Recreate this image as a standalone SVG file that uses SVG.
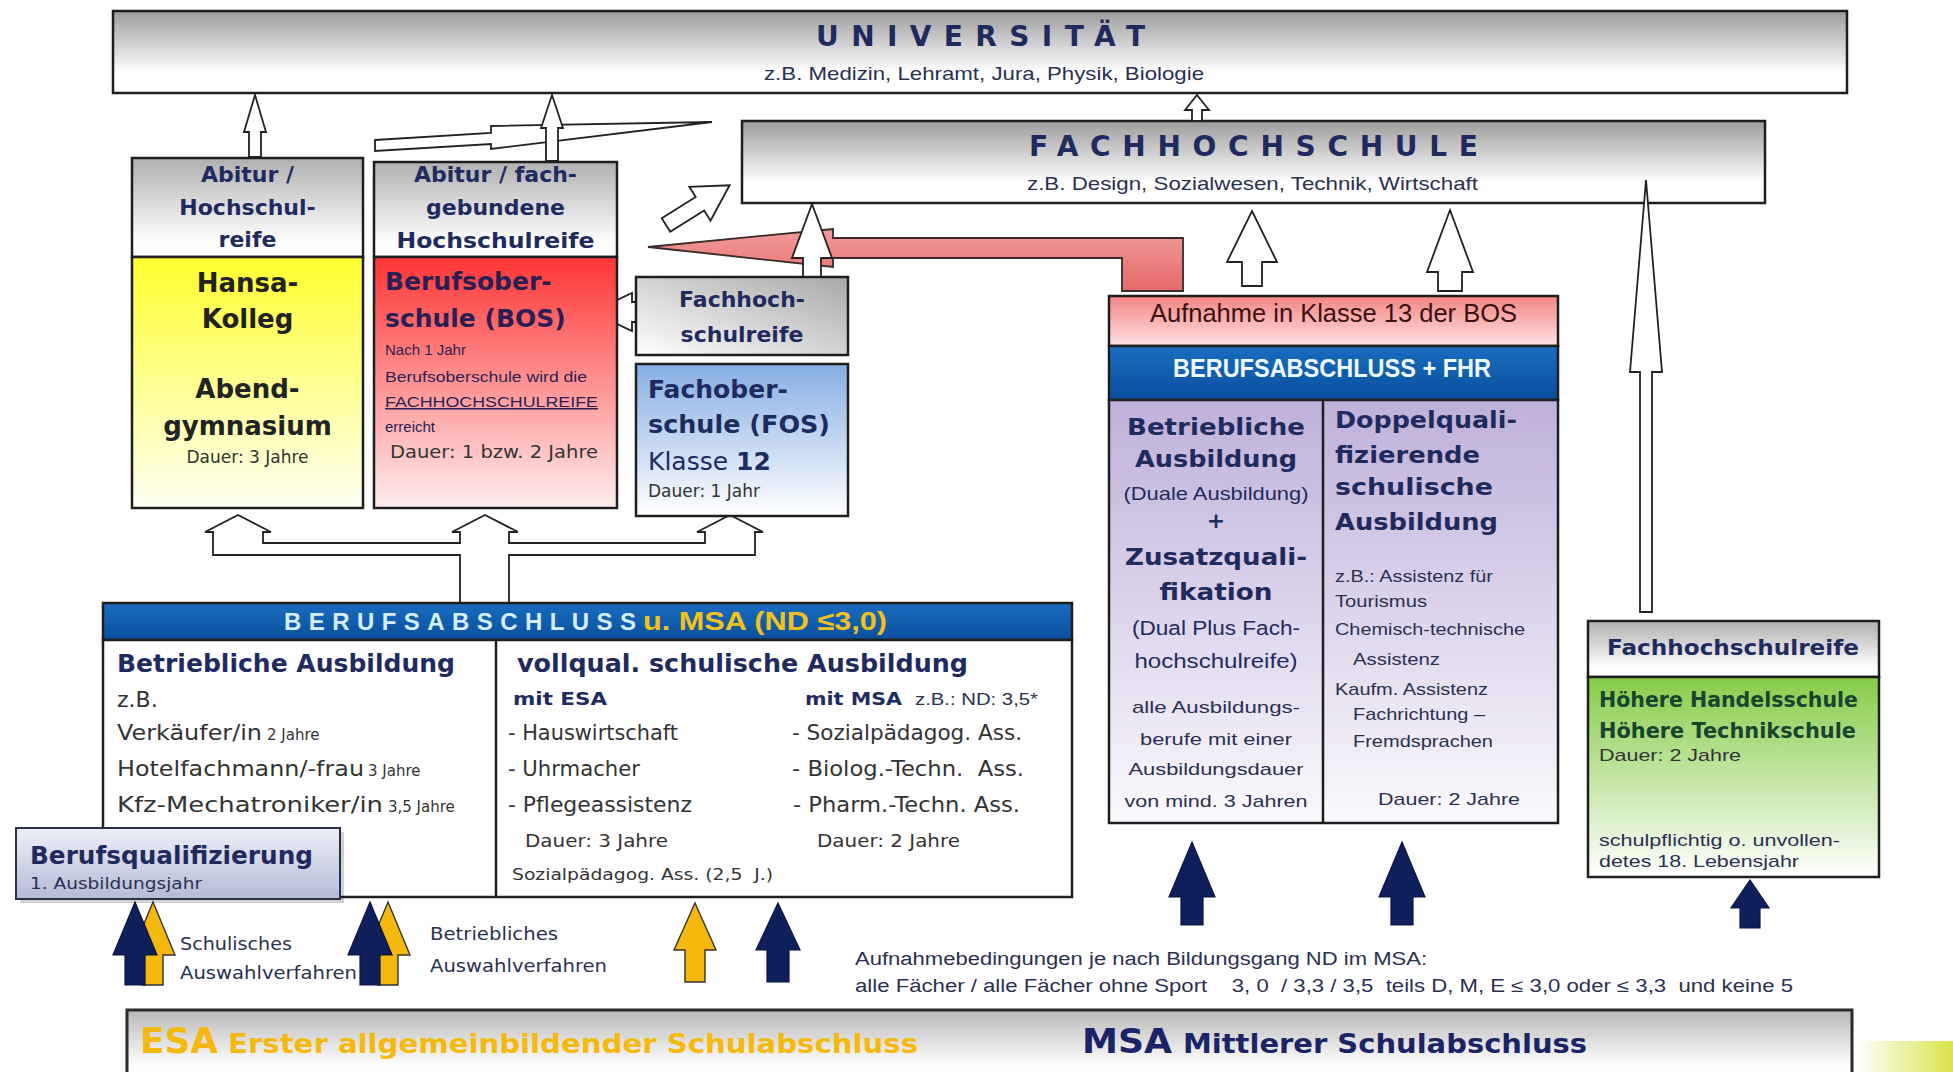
<svg xmlns="http://www.w3.org/2000/svg" width="1953" height="1072" viewBox="0 0 1953 1072">
<defs>
<linearGradient id="gGray" x1="0" y1="0" x2="0" y2="1"><stop offset="0" stop-color="#9c9c9c"/><stop offset="0.75" stop-color="#ffffff"/></linearGradient>
<linearGradient id="gHead" x1="0" y1="0" x2="0" y2="1"><stop offset="0" stop-color="#b0b0b0"/><stop offset="0.85" stop-color="#ffffff"/></linearGradient>
<linearGradient id="gYellow" x1="0" y1="0" x2="0" y2="1"><stop offset="0" stop-color="#ffff2e"/><stop offset="1" stop-color="#fffff4"/></linearGradient>
<linearGradient id="gRed" x1="0" y1="0" x2="0" y2="1"><stop offset="0" stop-color="#ff3535"/><stop offset="1" stop-color="#ffeeee"/></linearGradient>
<linearGradient id="gFos" x1="0" y1="0" x2="0" y2="1"><stop offset="0" stop-color="#86aee3"/><stop offset="1" stop-color="#ffffff"/></linearGradient>
<linearGradient id="gFhrS" x1="0" y1="1" x2="1" y2="0"><stop offset="0" stop-color="#ffffff"/><stop offset="1" stop-color="#a8a8a8"/></linearGradient>
<linearGradient id="gPink" x1="0" y1="0" x2="0" y2="1"><stop offset="0" stop-color="#f48484"/><stop offset="1" stop-color="#fde2e2"/></linearGradient>
<linearGradient id="gBand" x1="0" y1="0" x2="0" y2="1"><stop offset="0" stop-color="#1a6cc0"/><stop offset="1" stop-color="#0b4f9c"/></linearGradient>
<linearGradient id="gLav" x1="0" y1="0" x2="0" y2="1"><stop offset="0" stop-color="#bfb0da"/><stop offset="1" stop-color="#fbf9fd"/></linearGradient>
<linearGradient id="gGreen" x1="0" y1="0" x2="0" y2="1"><stop offset="0" stop-color="#86cc48"/><stop offset="1" stop-color="#ffffff"/></linearGradient>
<linearGradient id="gBq" x1="0" y1="0" x2="0" y2="1"><stop offset="0" stop-color="#eef0f8"/><stop offset="1" stop-color="#b3bbd6"/></linearGradient>
<linearGradient id="gBottom" x1="0" y1="0" x2="0" y2="1"><stop offset="0" stop-color="#b8b8b8"/><stop offset="0.8" stop-color="#ffffff"/></linearGradient>
<linearGradient id="gPinkArrow" x1="0" y1="0" x2="0" y2="1"><stop offset="0" stop-color="#f29a9a"/><stop offset="1" stop-color="#e56a6a"/></linearGradient>
<linearGradient id="gLime" x1="0" y1="0" x2="1" y2="0"><stop offset="0" stop-color="#ffffff"/><stop offset="1" stop-color="#d9e34a"/></linearGradient>
<style>
.box{stroke:#1e1e1e;stroke-width:2.5}
.t{font-family:"DejaVu Sans",Verdana,sans-serif}
.n{font-family:"Liberation Sans",Arial,sans-serif}
.b{font-weight:bold}
.nv{fill:#1f2b5e}
.dk{fill:#2a3050}
.g3{fill:#333}
.mid{text-anchor:middle}
.pre{white-space:pre}
.ol{fill:#fff;stroke:#222;stroke-width:1.8;stroke-linejoin:miter}
.na{fill:#0f1f5c;stroke:#0a1440;stroke-width:1.2}
.ya{fill:#f5b80c;stroke:#333;stroke-width:1.4}
</style>
</defs>

<rect x="0" y="0" width="1953" height="1072" fill="#ffffff"/>
<rect x="1856" y="1041" width="97" height="31" fill="url(#gLime)"/>

<g id="universitaet">
<rect class="box" x="113" y="11" width="1734" height="82" fill="url(#gGray)"/>
<text class="t b nv" x="816" y="46" font-size="28" textLength="329" lengthAdjust="spacing">UNIVERSITÄT</text>
<text class="n dk" x="764" y="80" font-size="19" textLength="440" lengthAdjust="spacingAndGlyphs">z.B. Medizin, Lehramt, Jura, Physik, Biologie</text>
</g>

<g id="fachhochschule">
<rect class="box" x="742" y="121" width="1023" height="82" fill="url(#gGray)"/>
<text class="t b nv" x="1029" y="156" font-size="28" textLength="449" lengthAdjust="spacing">FACHHOCHSCHULE</text>
<text class="n dk" x="1027" y="190" font-size="19" textLength="451" lengthAdjust="spacingAndGlyphs">z.B. Design, Sozialwesen, Technik, Wirtschaft</text>
</g>

<g id="connectors">
<path class="ol" d="M255,95 L266,132 L261,132 L261,157 L249,157 L249,132 L244,132 Z"/>
<path class="ol" d="M375,140 L491,133 L491,126 L712,122 L491,149 L491,144 L375,151 Z"/>
<path class="ol" d="M552,95 L563,128 L558,128 L558,161 L546,161 L546,128 L541,128 Z"/>
<path class="ol" d="M1197,95 L1209,110 L1202,110 L1202,121 L1192,121 L1192,110 L1185,110 Z"/>
<path class="ol" transform="translate(666,225) rotate(-32)" d="M0,-8 L40,-8 L40,-20 L75,0 L40,20 L40,8 L0,8 Z"/>
<path d="M648,247 L833,229 L833,238 L1183,238 L1183,291 L1122,291 L1122,258 L833,258 L833,267 Z" fill="url(#gPinkArrow)" stroke="#3a2a2a" stroke-width="1.8"/>
<path class="ol" d="M812,204 L832,258 L821,258 L821,278 L803,278 L803,258 L792,258 Z"/>
<path class="ol" d="M592,312 L632,293 L632,302 L655,302 L655,322 L632,322 L632,331 Z"/>
<path class="ol" d="M1252,211 L1277,262 L1262,262 L1262,286 L1242,286 L1242,262 L1227,262 Z"/>
<path class="ol" d="M1450,210 L1473,272 L1462,272 L1462,291 L1438,291 L1438,272 L1427,272 Z"/>
<path class="ol" d="M1646,180 L1662,372 L1652,372 L1652,612 L1640,612 L1640,372 L1630,372 Z"/>
<path class="ol" d="M213,555 L213,532 L205,532 L238,515 L271,532 L263,532 L263,543 L460,543 L460,532 L452,532 L485,515 L518,532 L509,532 L509,543 L705,543 L705,532 L697,532 L730,515 L763,532 L755,532 L755,555 L509,555 L509,603 L460,603 L460,555 Z"/>
<path class="ya" d="M153,902 L175,955 L163,955 L163,985 L143,985 L143,955 L131,955 Z"/>
<path class="na" d="M135,902 L157,955 L145,955 L145,985 L125,985 L125,955 L113,955 Z"/>
<path class="ya" d="M388,902 L410,955 L398,955 L398,985 L378,985 L378,955 L366,955 Z"/>
<path class="na" d="M370,902 L392,955 L380,955 L380,985 L360,985 L360,955 L348,955 Z"/>
<path class="ya" d="M695,903 L716,950 L705,950 L705,982 L685,982 L685,950 L674,950 Z"/>
<path class="na" d="M778,903 L800,950 L789,950 L789,982 L767,982 L767,950 L756,950 Z"/>
<path class="na" d="M1192,842 L1215,897 L1203,897 L1203,925 L1181,925 L1181,897 L1169,897 Z"/>
<path class="na" d="M1402,842 L1425,897 L1413,897 L1413,925 L1391,925 L1391,897 L1379,897 Z"/>
<path class="na" d="M1750,880 L1769,908 L1760,908 L1760,928 L1740,928 L1740,908 L1731,908 Z"/>
</g>

<g id="abitur-hansa">
<rect class="box" x="132" y="158" width="231" height="99" fill="url(#gHead)"/>
<rect class="box" x="132" y="257" width="231" height="251" fill="url(#gYellow)"/>
<text class="t b nv mid" x="247.5" y="182" font-size="22">Abitur /</text>
<text class="t b nv mid" x="247.5" y="215" font-size="22">Hochschul-</text>
<text class="t b nv mid" x="247.5" y="247" font-size="22">reife</text>
<text class="t b mid" x="247.5" y="292" font-size="26" fill="#222">Hansa-</text>
<text class="t b mid" x="247.5" y="328" font-size="26" fill="#222">Kolleg</text>
<text class="t b mid" x="247.5" y="398" font-size="26" fill="#222">Abend-</text>
<text class="t b mid" x="247.5" y="435" font-size="26" fill="#222">gymnasium</text>
<text class="t g3 mid" x="247.5" y="463" font-size="17">Dauer: 3 Jahre</text>
</g>

<g id="bos">
<rect class="box" x="374" y="162" width="243" height="95" fill="url(#gHead)"/>
<rect class="box" x="374" y="257" width="243" height="251" fill="url(#gRed)"/>
<text class="t b nv mid" x="495.5" y="182" font-size="22">Abitur / fach-</text>
<text class="t b nv mid" x="495.5" y="215" font-size="22">gebundene</text>
<text class="t b nv mid" x="495.5" y="248" font-size="22" textLength="198" lengthAdjust="spacingAndGlyphs">Hochschulreife</text>
<text class="t b" x="385" y="290" font-size="25" fill="#2a1f55">Berufsober-</text>
<text class="t b" x="385" y="327" font-size="25" fill="#2a1f55">schule (BOS)</text>
<text class="n" x="385" y="355" font-size="15" fill="#2a1f55">Nach 1 Jahr</text>
<text class="n" x="385" y="382" font-size="15" fill="#2a1f55" textLength="202" lengthAdjust="spacingAndGlyphs">Berufsoberschule wird die</text>
<text class="n" x="385" y="407" font-size="15" fill="#2a1f55" text-decoration="underline" textLength="213" lengthAdjust="spacingAndGlyphs">FACHHOCHSCHULREIFE</text>
<text class="n" x="385" y="432" font-size="15" fill="#2a1f55">erreicht</text>
<text class="t g3" x="390" y="458" font-size="18" textLength="208" lengthAdjust="spacingAndGlyphs">Dauer: 1 bzw. 2 Jahre</text>
</g>

<g id="fachhochschulreife-links">
<rect class="box" x="636" y="277" width="212" height="78" fill="url(#gFhrS)"/>
<text class="t b nv mid" x="742" y="307" font-size="22">Fachhoch-</text>
<text class="t b nv mid" x="742" y="342" font-size="22">schulreife</text>
</g>

<g id="fos">
<rect class="box" x="636" y="364" width="212" height="152" fill="url(#gFos)"/>
<text class="t b nv" x="648" y="398" font-size="25">Fachober-</text>
<text class="t b nv" x="648" y="433" font-size="25" textLength="182" lengthAdjust="spacingAndGlyphs">schule (FOS)</text>
<text class="t nv" x="648" y="470" font-size="25">Klasse <tspan font-weight="bold">12</tspan></text>
<text class="t g3" x="648" y="497" font-size="17">Dauer: 1 Jahr</text>
</g>

<g id="bos-klasse13">
<rect class="box" x="1109" y="296" width="449" height="50" fill="url(#gPink)"/>
<rect class="box" x="1109" y="346" width="449" height="54" fill="url(#gBand)"/>
<rect class="box" x="1109" y="400" width="449" height="423" fill="url(#gLav)"/>
<line class="box" x1="1323" y1="400" x2="1323" y2="823"/>
<text class="n" x="1150" y="322" font-size="26" fill="#3a1010" textLength="367" lengthAdjust="spacingAndGlyphs">Aufnahme in Klasse 13 der BOS</text>
<text class="n b" x="1173" y="377" font-size="26" fill="#eef8ff" textLength="318" lengthAdjust="spacingAndGlyphs">BERUFSABSCHLUSS + FHR</text>
<text class="t b nv mid" x="1216" y="435" font-size="23" textLength="178" lengthAdjust="spacingAndGlyphs">Betriebliche</text>
<text class="t b nv mid" x="1216" y="467" font-size="23" textLength="162" lengthAdjust="spacingAndGlyphs">Ausbildung</text>
<text class="n nv mid" x="1216" y="500" font-size="19" textLength="185" lengthAdjust="spacingAndGlyphs">(Duale Ausbildung)</text>
<text class="t b nv mid" x="1216" y="528" font-size="22">+</text>
<text class="t b nv mid" x="1216" y="565" font-size="23" textLength="182" lengthAdjust="spacingAndGlyphs">Zusatzquali-</text>
<text class="t b nv mid" x="1216" y="600" font-size="23" textLength="113" lengthAdjust="spacingAndGlyphs">fikation</text>
<text class="n nv mid" x="1216" y="635" font-size="20" textLength="168" lengthAdjust="spacingAndGlyphs">(Dual Plus Fach-</text>
<text class="n nv mid" x="1216" y="668" font-size="20" textLength="163" lengthAdjust="spacingAndGlyphs">hochschulreife)</text>
<text class="n dk mid" x="1216" y="713" font-size="17" textLength="168" lengthAdjust="spacingAndGlyphs">alle Ausbildungs-</text>
<text class="n dk mid" x="1216" y="745" font-size="17" textLength="152" lengthAdjust="spacingAndGlyphs">berufe mit einer</text>
<text class="n dk mid" x="1216" y="775" font-size="17" textLength="175" lengthAdjust="spacingAndGlyphs">Ausbildungsdauer</text>
<text class="n dk mid" x="1216" y="807" font-size="17" textLength="183" lengthAdjust="spacingAndGlyphs">von mind. 3 Jahren</text>
<text class="t b nv" x="1335" y="428" font-size="23" textLength="182" lengthAdjust="spacingAndGlyphs">Doppelquali-</text>
<text class="t b nv" x="1335" y="463" font-size="23" textLength="145" lengthAdjust="spacingAndGlyphs">fizierende</text>
<text class="t b nv" x="1335" y="495" font-size="23" textLength="158" lengthAdjust="spacingAndGlyphs">schulische</text>
<text class="t b nv" x="1335" y="530" font-size="23" textLength="163" lengthAdjust="spacingAndGlyphs">Ausbildung</text>
<text class="n dk" x="1335" y="582" font-size="17" textLength="158" lengthAdjust="spacingAndGlyphs">z.B.: Assistenz für</text>
<text class="n dk" x="1335" y="607" font-size="17" textLength="92" lengthAdjust="spacingAndGlyphs">Tourismus</text>
<text class="n dk" x="1335" y="635" font-size="17" textLength="190" lengthAdjust="spacingAndGlyphs">Chemisch-technische</text>
<text class="n dk" x="1353" y="665" font-size="17" textLength="87" lengthAdjust="spacingAndGlyphs">Assistenz</text>
<text class="n dk" x="1335" y="695" font-size="17" textLength="153" lengthAdjust="spacingAndGlyphs">Kaufm. Assistenz</text>
<text class="n dk" x="1353" y="720" font-size="17" textLength="132" lengthAdjust="spacingAndGlyphs">Fachrichtung –</text>
<text class="n dk" x="1353" y="747" font-size="17" textLength="140" lengthAdjust="spacingAndGlyphs">Fremdsprachen</text>
<text class="n dk" x="1378" y="805" font-size="17" textLength="142" lengthAdjust="spacingAndGlyphs">Dauer: 2 Jahre</text>
</g>

<g id="fachhochschulreife-rechts">
<rect class="box" x="1588" y="621" width="291" height="56" fill="url(#gHead)"/>
<rect class="box" x="1588" y="677" width="291" height="200" fill="url(#gGreen)"/>
<text class="t b nv mid" x="1733" y="655" font-size="22" textLength="252" lengthAdjust="spacingAndGlyphs">Fachhochschulreife</text>
<text class="t b" x="1599" y="707" font-size="21" fill="#17452e" textLength="259" lengthAdjust="spacingAndGlyphs">Höhere Handelsschule</text>
<text class="t b" x="1599" y="738" font-size="21" fill="#17452e" textLength="257" lengthAdjust="spacingAndGlyphs">Höhere Technikschule</text>
<text class="n g3" x="1599" y="761" font-size="17" textLength="142" lengthAdjust="spacingAndGlyphs">Dauer: 2 Jahre</text>
<text class="n dk" x="1599" y="846" font-size="17" textLength="241" lengthAdjust="spacingAndGlyphs">schulpflichtig o. unvollen-</text>
<text class="n dk" x="1599" y="867" font-size="17" textLength="200" lengthAdjust="spacingAndGlyphs">detes 18. Lebensjahr</text>
</g>

<g id="berufsabschluss">
<rect class="box" x="103" y="603" width="969" height="37" fill="url(#gBand)"/>
<rect class="box" x="103" y="640" width="969" height="257" fill="#ffffff"/>
<line class="box" x1="496" y1="640" x2="496" y2="897"/>
<text class="n b" x="284" y="630" font-size="24" fill="#d6efff" textLength="352" lengthAdjust="spacing">BERUFSABSCHLUSS</text>
<text class="n b" x="643" y="630" font-size="26" fill="#f2c21b" textLength="244" lengthAdjust="spacingAndGlyphs">u. MSA (ND ≤3,0)</text>
<text class="t b nv" x="117" y="672" font-size="25" textLength="338" lengthAdjust="spacingAndGlyphs">Betriebliche Ausbildung</text>
<text class="t g3" x="117" y="707" font-size="22">z.B.</text>
<text class="t g3" x="117" y="740" font-size="22" textLength="145" lengthAdjust="spacingAndGlyphs">Verkäufer/in</text>
<text class="t g3" x="267" y="740" font-size="15">2 Jahre</text>
<text class="t g3" x="117" y="776" font-size="22" textLength="247" lengthAdjust="spacingAndGlyphs">Hotelfachmann/-frau</text>
<text class="t g3" x="368" y="776" font-size="15">3 Jahre</text>
<text class="t g3" x="117" y="812" font-size="22" textLength="266" lengthAdjust="spacingAndGlyphs">Kfz-Mechatroniker/in</text>
<text class="t g3" x="388" y="812" font-size="15">3,5 Jahre</text>
<text class="t b nv" x="517" y="672" font-size="25" textLength="451" lengthAdjust="spacingAndGlyphs">vollqual. schulische Ausbildung</text>
<text class="t b nv" x="513" y="705" font-size="17" textLength="94" lengthAdjust="spacingAndGlyphs">mit ESA</text>
<text class="t g3" x="508" y="740" font-size="21" textLength="170" lengthAdjust="spacingAndGlyphs">- Hauswirtschaft</text>
<text class="t g3" x="508" y="776" font-size="21" textLength="132" lengthAdjust="spacingAndGlyphs">- Uhrmacher</text>
<text class="t g3" x="508" y="812" font-size="21" textLength="184" lengthAdjust="spacingAndGlyphs">- Pflegeassistenz</text>
<text class="t g3" x="525" y="847" font-size="17" textLength="143" lengthAdjust="spacingAndGlyphs">Dauer: 3 Jahre</text>
<text class="t g3 pre" x="512" y="880" font-size="16" textLength="261" lengthAdjust="spacingAndGlyphs">Sozialpädagog. Ass. (2,5  J.)</text>
<text class="t b nv" x="805" y="705" font-size="17" textLength="97" lengthAdjust="spacingAndGlyphs">mit MSA</text>
<text class="n dk" x="915" y="705" font-size="16" textLength="123" lengthAdjust="spacingAndGlyphs">z.B.: ND: 3,5*</text>
<text class="t g3" x="792" y="740" font-size="21" textLength="230" lengthAdjust="spacingAndGlyphs">- Sozialpädagog. Ass.</text>
<text class="t g3 pre" x="792" y="776" font-size="21" textLength="232" lengthAdjust="spacingAndGlyphs">- Biolog.-Techn.  Ass.</text>
<text class="t g3" x="793" y="812" font-size="21" textLength="227" lengthAdjust="spacingAndGlyphs">- Pharm.-Techn. Ass.</text>
<text class="t g3" x="817" y="847" font-size="17" textLength="143" lengthAdjust="spacingAndGlyphs">Dauer: 2 Jahre</text>
</g>

<g id="berufsqualifizierung">
<rect x="20" y="832" width="324" height="71" fill="#000" opacity="0.18"/>
<rect x="16" y="828" width="324" height="71" fill="url(#gBq)" stroke="#2a2f4a" stroke-width="2"/>
<text class="t b nv" x="30" y="864" font-size="25" textLength="283" lengthAdjust="spacingAndGlyphs">Berufsqualifizierung</text>
<text class="t dk" x="30" y="889" font-size="15" textLength="172" lengthAdjust="spacingAndGlyphs">1. Ausbildungsjahr</text>
</g>

<g id="auswahl-labels">
<text class="t dk" x="180" y="950" font-size="17" textLength="112" lengthAdjust="spacingAndGlyphs">Schulisches</text>
<text class="t dk" x="180" y="979" font-size="17" textLength="177" lengthAdjust="spacingAndGlyphs">Auswahlverfahren</text>
<text class="t dk" x="430" y="940" font-size="17" textLength="128" lengthAdjust="spacingAndGlyphs">Betriebliches</text>
<text class="t dk" x="430" y="972" font-size="17" textLength="177" lengthAdjust="spacingAndGlyphs">Auswahlverfahren</text>
</g>

<g id="aufnahmebedingungen">
<text class="n dk" x="855" y="965" font-size="18" textLength="572" lengthAdjust="spacingAndGlyphs">Aufnahmebedingungen je nach Bildungsgang ND im MSA:</text>
<text class="n dk pre" x="855" y="992" font-size="18" textLength="938" lengthAdjust="spacingAndGlyphs">alle Fächer / alle Fächer ohne Sport    3, 0  / 3,3 / 3,5  teils D, M, E ≤ 3,0 oder ≤ 3,3  und keine 5</text>
</g>

<g id="schulabschluss">
<rect x="127" y="1010" width="1725" height="70" fill="url(#gBottom)" stroke="#2a2a2a" stroke-width="3"/>
<text class="t b" x="140" y="1053" font-size="36" fill="#f5b90c" textLength="78" lengthAdjust="spacingAndGlyphs">ESA</text>
<text class="t b" x="228" y="1053" font-size="27" fill="#f5b90c" textLength="690" lengthAdjust="spacingAndGlyphs">Erster allgemeinbildender Schulabschluss</text>
<text class="t b" x="1082" y="1053" font-size="34" fill="#1a2466" textLength="90" lengthAdjust="spacingAndGlyphs">MSA</text>
<text class="t b" x="1183" y="1053" font-size="26" fill="#1a2466" textLength="404" lengthAdjust="spacingAndGlyphs">Mittlerer Schulabschluss</text>
</g>
</svg>
